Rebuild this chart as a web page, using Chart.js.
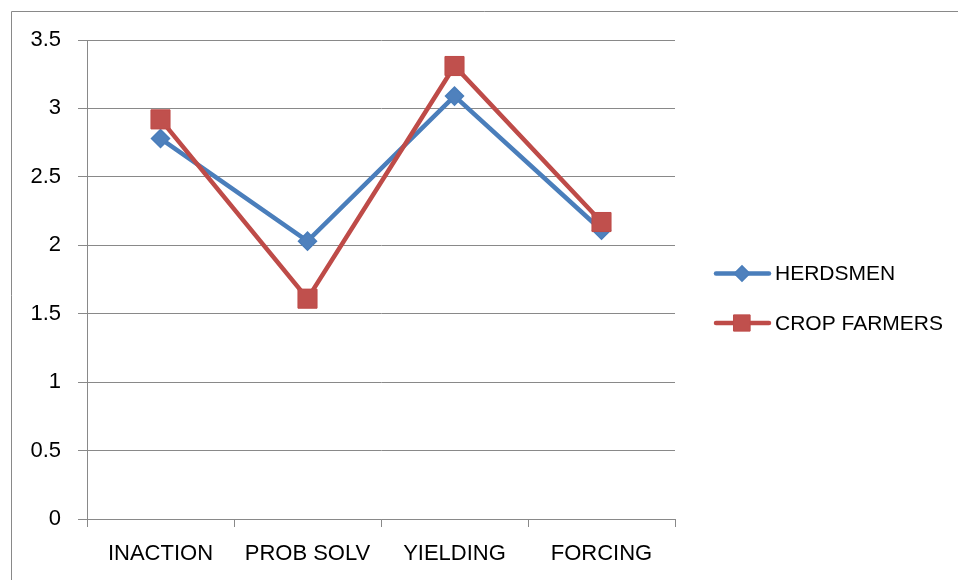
<!DOCTYPE html>
<html>
<head>
<meta charset="utf-8">
<script src="https://cdn.jsdelivr.net/npm/chart.js@4/dist/chart.umd.min.js"></script>
<style>
  html, body { margin: 0; padding: 0; background: #fff; }
  #wrap { position: relative; width: 958px; height: 580px; }
</style>
</head>
<body>
<div id="wrap"><canvas id="c" width="958" height="580"></canvas></div>
<script>
// Conflict-handling style means for the two groups
const categories = ['INACTION', 'PROB SOLV', 'YIELDING', 'FORCING'];
const herdsmen = [2.78, 2.03, 3.09, 2.11];
const cropFarmers = [2.92, 1.61, 3.31, 2.17];
const seriesNames = ['HERDSMEN', 'CROP FARMERS'];
const yMin = 0, yMax = 3.5, yStep = 0.5;

const GRID = '#898989';
const FONT = "'Liberation Sans', Arial, sans-serif";

// Thin frame around the figure (left and top edges)
const framePlugin = {
  id: 'frame',
  beforeDraw(chart) {
    const ctx = chart.ctx;
    ctx.save();
    ctx.strokeStyle = GRID;
    ctx.lineWidth = 1;
    ctx.beginPath();
    ctx.moveTo(11.5, chart.height);
    ctx.lineTo(11.5, 11.5);
    ctx.lineTo(chart.width, 11.5);
    ctx.stroke();
    ctx.restore();
  }
};

// Legend on the right: line + marker sample, then the series name
const sideLegend = {
  id: 'sideLegend',
  afterDraw(chart) {
    const ctx = chart.ctx;
    const x0 = chart.chartArea.right + 39;
    chart.data.datasets.forEach((ds, i) => {
      const y = 273.5 + i * 49.5;
      ctx.save();
      ctx.strokeStyle = ds.borderColor;
      ctx.lineWidth = ds.borderWidth;
      ctx.lineCap = 'round';
      ctx.beginPath();
      ctx.moveTo(x0 + 2, y);
      ctx.lineTo(x0 + 55, y);
      ctx.stroke();
      ctx.fillStyle = ds.pointBackgroundColor;
      ctx.strokeStyle = ds.pointBorderColor;
      ctx.lineWidth = ds.pointBorderWidth;
      Chart.helpers.drawPoint(ctx, {
        pointStyle: ds.pointStyle,
        radius: ds.pointRadius * 0.85,
        rotation: 0,
        borderWidth: ds.pointBorderWidth
      }, x0 + 28, y);
      ctx.fillStyle = '#000';
      ctx.font = '21px ' + FONT;
      ctx.textBaseline = 'middle';
      ctx.textAlign = 'left';
      ctx.fillText(ds.label, x0 + 61, y + 1);
      ctx.restore();
    });
  }
};

new Chart(document.getElementById('c'), {
  type: 'line',
  data: {
    labels: categories,
    datasets: [
      {
        label: seriesNames[0],
        data: herdsmen,
        borderColor: '#4A7EBB',
        borderWidth: 4.5,
        pointStyle: 'rectRot',
        pointRadius: 9,
        pointBackgroundColor: '#4F81BD',
        pointBorderColor: '#4A7EBB',
        pointBorderWidth: 1.5,
        tension: 0,
        order: 1
      },
      {
        label: seriesNames[1],
        data: cropFarmers,
        borderColor: '#BE4B48',
        borderWidth: 4.5,
        pointStyle: 'rect',
        pointRadius: 13.5,
        pointBackgroundColor: '#C0504D',
        pointBorderColor: '#BE4B48',
        pointBorderWidth: 1,
        tension: 0,
        order: 0
      }
    ]
  },
  options: {
    responsive: false,
    devicePixelRatio: 1,
    animation: false,
    layout: { padding: { left: 0, top: 40, right: 283, bottom: 0 } },
    plugins: {
      legend: { display: false },
      tooltip: { enabled: false }
    },
    scales: {
      x: {
        offset: true,
        grid: {
          offset: true,
          drawOnChartArea: false,
          drawTicks: true,
          tickLength: 8,
          color: GRID
        },
        border: { display: true, color: GRID, width: 1 },
        ticks: {
          color: '#000',
          font: { family: FONT, size: 22 },
          padding: 14,
          maxRotation: 0,
          autoSkip: false
        },
        afterFit(scale) { scale.height = 61; }
      },
      y: {
        min: yMin,
        max: yMax,
        grid: {
          color: GRID,
          drawTicks: true,
          tickLength: 9
        },
        border: { display: true, color: GRID, width: 1 },
        ticks: {
          stepSize: yStep,
          color: '#000',
          font: { family: FONT, size: 22 },
          padding: 17,
          callback: (v) => String(Math.round(v * 10) / 10)
        },
        afterFit(scale) { scale.width = 87; }
      }
    }
  },
  plugins: [framePlugin, sideLegend]
});
</script>
</body>
</html>
